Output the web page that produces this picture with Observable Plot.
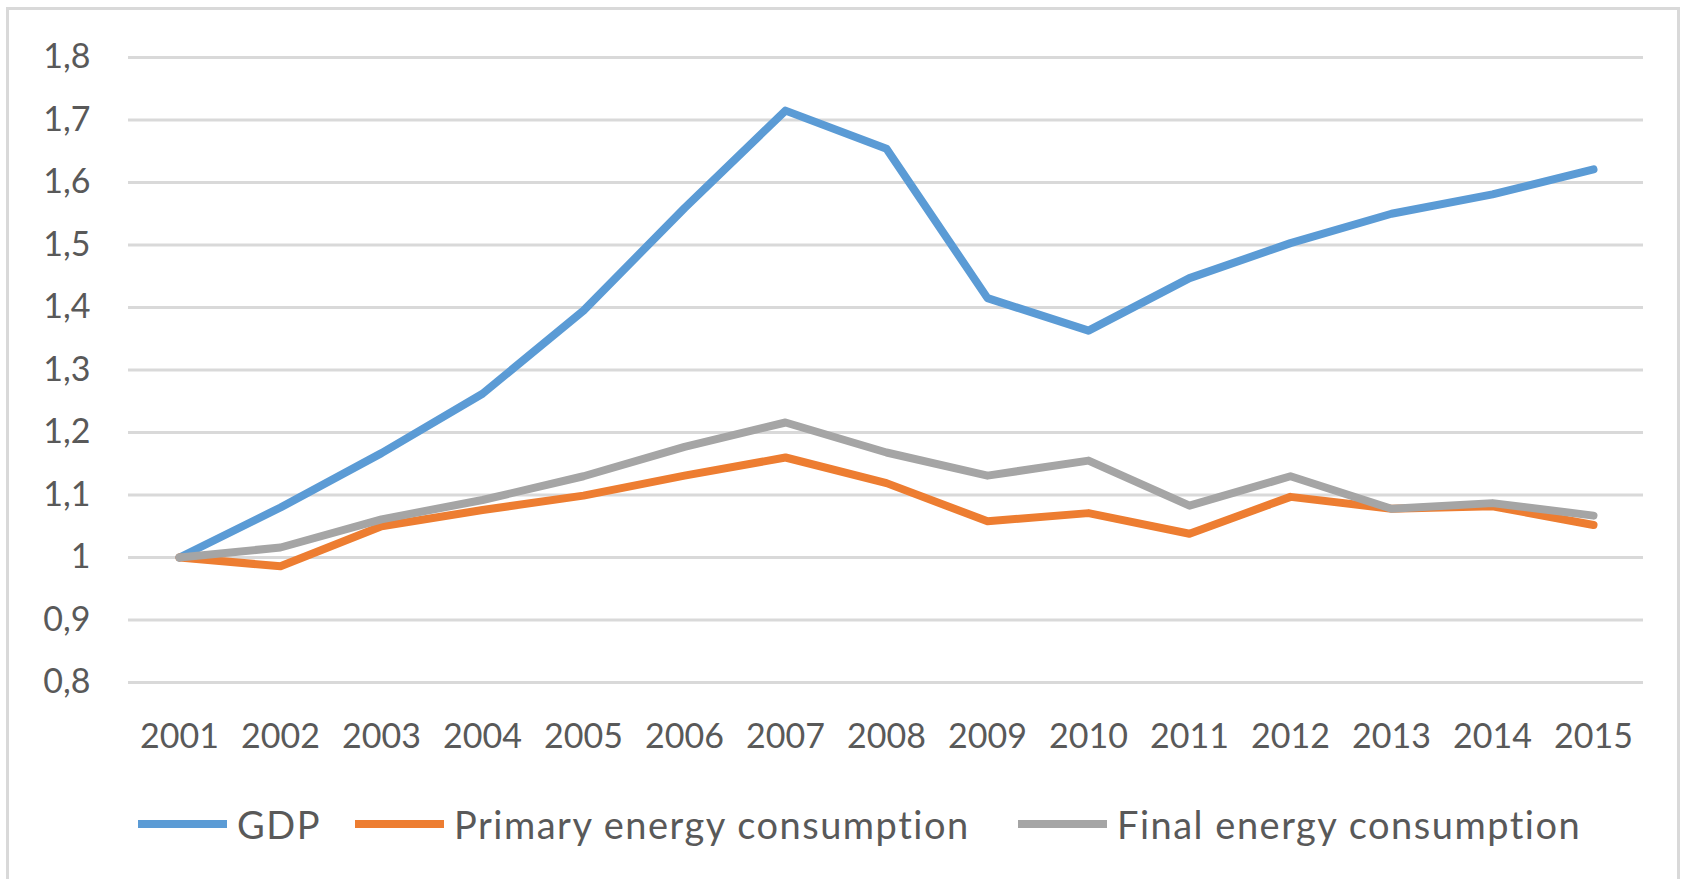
<!DOCTYPE html>
<html>
<head>
<meta charset="utf-8">
<script src="https://cdn.jsdelivr.net/npm/d3@7"></script>
<script src="https://cdn.jsdelivr.net/npm/@observablehq/plot@0.6"></script>
<style>
  html, body { margin: 0; padding: 0; background: #fff; }
  #wrap { position: relative; width: 1690px; height: 879px; overflow: hidden; font-family: Lato, "Noto Sans", sans-serif; color: #595959; }
  #frame { position: absolute; left: 6px; top: 7px; width: 1674px; height: 900px; border: 3px solid #d9d9d9; box-sizing: border-box; }
  #chart { position: absolute; left: 0; top: 0; }
  .leg { position: absolute; top: 801px; display: flex; align-items: center; font-size: 38px; line-height: 46px; letter-spacing: 1.5px; white-space: nowrap; }
  .leg .sw { width: 89px; height: 8px; margin-right: 10px; }
</style>
</head>
<body>
<div id="wrap">
  <div id="frame"></div>
  <div id="chart"></div>
</div>
<script>
const years = ["2001","2002","2003","2004","2005","2006","2007","2008","2009","2010","2011","2012","2013","2014","2015"];
const gdp     = [1.00, 1.08, 1.167, 1.262, 1.395, 1.559, 1.715, 1.654, 1.415, 1.363, 1.447, 1.503, 1.55, 1.581, 1.621];
const primary = [1.00, 0.986, 1.05, 1.076, 1.099, 1.131, 1.16, 1.119, 1.058, 1.071, 1.038, 1.097, 1.078, 1.082, 1.052];
const finalE  = [1.00, 1.016, 1.061, 1.092, 1.13, 1.177, 1.216, 1.168, 1.131, 1.155, 1.083, 1.13, 1.078, 1.087, 1.067];
const seriesNames = ["GDP", "Primary energy consumption", "Final energy consumption"];
const seriesColors = ["#5B9BD5", "#ED7D31", "#A5A5A5"];
const yTicks = [0.8, 0.9, 1.0, 1.1, 1.2, 1.3, 1.4, 1.5, 1.6, 1.7, 1.8];

const seriesValues = [gdp, primary, finalE];
const rows = seriesValues.map((vals, i) => years.map((y, j) => ({year: y, value: vals[j], series: seriesNames[i]})));

const fmt = d => (Math.abs(d - 1) < 1e-9 ? "1" : d.toFixed(1).replace(".", ","));

const chart = Plot.plot({
  width: 1690,
  height: 780,
  marginLeft: 128,
  marginRight: 47,
  marginTop: 57,
  marginBottom: 98,
  style: {fontFamily: "Lato, 'Noto Sans', sans-serif", fontSize: "34px", color: "#595959", background: "transparent"},
  x: {type: "point", domain: years, padding: 0.5, label: null, tickSize: 0, tickPadding: 41},
  y: {domain: [0.8, 1.8], ticks: yTicks, tickFormat: fmt, label: null, tickSize: 0, tickPadding: 38},
  marks: [
    Plot.ruleY(yTicks, {stroke: "#d9d9d9", strokeWidth: 3}),
    ...rows.map((r, i) => Plot.line(r, {x: "year", y: "value", stroke: seriesColors[i], strokeWidth: 8, strokeLinejoin: "round", strokeLinecap: "round"})),
    Plot.axisX({tickSize: 0, tickPadding: 41, fill: "#595959"}),
    Plot.axisY({ticks: yTicks, tickFormat: fmt, tickSize: 0, tickPadding: 38, fill: "#595959"})
  ]
});
document.getElementById("chart").appendChild(chart);

const legLefts = [138, 355, 1018];
const wrap = document.getElementById("wrap");
seriesNames.forEach((name, i) => {
  const item = document.createElement("div");
  item.className = "leg";
  item.style.left = legLefts[i] + "px";
  const sw = document.createElement("span");
  sw.className = "sw";
  sw.style.background = seriesColors[i];
  const tx = document.createElement("span");
  tx.textContent = name;
  item.appendChild(sw);
  item.appendChild(tx);
  wrap.appendChild(item);
});
</script>
</body>
</html>
